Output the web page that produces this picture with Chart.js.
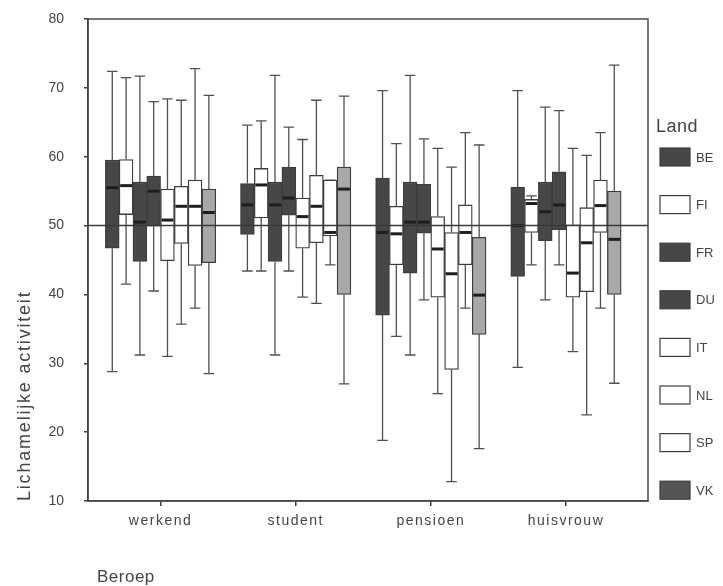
<!DOCTYPE html>
<html>
<head>
<meta charset="utf-8">
<title>Lichamelijke activiteit per beroep en land</title>
<script src="https://cdn.jsdelivr.net/npm/chart.js@4.4.1/dist/chart.umd.min.js"></script>
<style>
  html, body { margin: 0; padding: 0; background: #fff; }
  canvas { display: block; }
</style>
</head>
<body>
<canvas id="boxChart" width="723" height="586"></canvas>
<script>
// categories and groups
const beroepen = ["werkend", "student", "pensioen", "huisvrouw"];
const landen = ["BE", "FI", "FR", "DU", "IT", "NL", "SP", "VK"];
const yTicks = [10, 20, 30, 40, 50, 60, 70, 80];
const referentie = 50;

// box statistics per land, in beroepen order
const whiskerHoog = {
  BE: [72.4, 64.6, 69.6, 69.6],
  FI: [71.5, 65.2, 61.9, 54.3],
  FR: [71.7, 71.8, 71.8, 67.2],
  DU: [68.0, 64.3, 62.6, 66.7],
  IT: [68.4, 62.5, 61.2, 61.2],
  NL: [68.2, 68.2, 58.5, 60.2],
  SP: [72.8, 56.6, 63.5, 63.5],
  VK: [68.9, 68.8, 61.7, 73.3]
};
const q3 = {
  BE: [59.5, 56.1, 56.9, 55.6],
  FI: [59.6, 58.3, 52.8, 53.8],
  FR: [56.3, 56.3, 56.3, 56.3],
  DU: [57.2, 58.5, 56.0, 57.8],
  IT: [55.3, 54.0, 51.3, 50.1],
  NL: [55.7, 57.3, 49.0, 52.6],
  SP: [56.6, 56.6, 53.0, 56.6],
  VK: [55.3, 58.5, 48.3, 55.0]
};
const mediaan = {
  BE: [55.5, 53.0, 49.0, 50.0],
  FI: [55.8, 55.9, 48.8, 53.2],
  FR: [50.5, 53.0, 50.5, 52.0],
  DU: [55.0, 54.0, 50.5, 53.0],
  IT: [50.8, 51.3, 46.6, 43.1],
  NL: [52.8, 52.8, 43.0, 47.5],
  SP: [52.8, 49.0, 49.0, 52.9],
  VK: [51.9, 55.3, 39.9, 48.0]
};
const q1 = {
  BE: [46.7, 48.7, 37.0, 42.6],
  FI: [51.6, 51.1, 44.3, 49.0],
  FR: [44.8, 44.8, 43.1, 47.8],
  DU: [49.9, 51.5, 48.9, 49.4],
  IT: [44.9, 46.7, 39.6, 39.6],
  NL: [47.4, 47.5, 29.1, 40.4],
  SP: [44.2, 48.5, 44.3, 49.0],
  VK: [44.6, 40.0, 34.2, 40.0]
};
const whiskerLaag = {
  BE: [28.8, 43.4, 18.8, 29.4],
  FI: [41.5, 43.4, 33.9, 44.3],
  FR: [31.2, 31.2, 31.2, 39.2],
  DU: [40.5, 43.4, 39.2, 44.3],
  IT: [31.0, 39.6, 25.6, 31.7],
  NL: [35.7, 38.7, 12.8, 22.5],
  SP: [38.0, 44.3, 38.0, 38.0],
  VK: [28.5, 27.0, 17.6, 27.1]
};

// styling
const vulKleur = {
  BE: "#474747", FI: "#ffffff", FR: "#474747", DU: "#474747",
  IT: "#ffffff", NL: "#ffffff", SP: "#ffffff", VK: "#a8a8a8"
};
const legendaKleur = Object.assign({}, vulKleur, { VK: "#555555" });
const lijnKleur = "#3d3d3d";
const tekstKleur = "#444444";
const font = "'Liberation Sans', Arial, sans-serif";

const datasets = landen.map(land => ({
  label: land,
  data: beroepen.map((b, i) => ({ x: i + 1, y: [q1[land][i], q3[land][i]] })),
  backgroundColor: vulKleur[land],
  borderColor: lijnKleur,
  borderWidth: 1.3,
  borderSkipped: false,
  barThickness: 13.8
}));

const boxPlugin = {
  id: "boxplot",
  beforeDatasetsDraw(chart) {
    const ctx = chart.ctx;
    const y = chart.scales.y;
    ctx.save();
    ctx.strokeStyle = "#505050";
    ctx.lineWidth = 1.3;
    chart.data.datasets.forEach((ds, d) => {
      const land = ds.label;
      chart.getDatasetMeta(d).data.forEach((bar, i) => {
        const hi = y.getPixelForValue(whiskerHoog[land][i]);
        const lo = y.getPixelForValue(whiskerLaag[land][i]);
        const top = y.getPixelForValue(q3[land][i]);
        const bot = y.getPixelForValue(q1[land][i]);
        const cap = bar.width * 0.38;
        ctx.beginPath();
        ctx.moveTo(bar.x, top); ctx.lineTo(bar.x, hi);
        ctx.moveTo(bar.x, bot); ctx.lineTo(bar.x, lo);
        ctx.moveTo(bar.x - cap, hi); ctx.lineTo(bar.x + cap, hi);
        ctx.moveTo(bar.x - cap, lo); ctx.lineTo(bar.x + cap, lo);
        ctx.stroke();
      });
    });
    ctx.restore();
  },
  afterDatasetsDraw(chart) {
    const ctx = chart.ctx;
    const y = chart.scales.y;
    const a = chart.chartArea;
    ctx.save();
    // medians
    ctx.strokeStyle = "#1e1e1e";
    ctx.lineWidth = 3;
    chart.data.datasets.forEach((ds, d) => {
      const land = ds.label;
      chart.getDatasetMeta(d).data.forEach((bar, i) => {
        const m = y.getPixelForValue(mediaan[land][i]);
        ctx.beginPath();
        ctx.moveTo(bar.x - bar.width / 2 + 1, m);
        ctx.lineTo(bar.x + bar.width / 2 - 1, m);
        ctx.stroke();
      });
    });
    // reference line
    const ry = y.getPixelForValue(referentie);
    ctx.strokeStyle = "#3a3a3a";
    ctx.lineWidth = 1.5;
    ctx.beginPath();
    ctx.moveTo(a.left, ry); ctx.lineTo(a.right, ry);
    ctx.stroke();
    // frame
    ctx.strokeStyle = "#4a4a4a";
    ctx.strokeRect(a.left, a.top, a.right - a.left, a.bottom - a.top);
    ctx.restore();
  },
  afterDraw(chart) {
    const ctx = chart.ctx;
    const x = chart.scales.x;
    const a = chart.chartArea;
    ctx.save();
    ctx.fillStyle = tekstKleur;
    // category labels
    ctx.font = "14px " + font;
    ctx.letterSpacing = "1.5px";
    ctx.textAlign = "center";
    ctx.textBaseline = "middle";
    beroepen.forEach((b, i) => ctx.fillText(b, x.getPixelForValue(i + 1), a.bottom + 20));
    // axis titles
    ctx.font = "17px " + font;
    ctx.letterSpacing = "0.5px";
    ctx.textAlign = "left";
    ctx.fillText("Beroep", 97, 577);
    ctx.save();
    ctx.translate(25, a.bottom);
    ctx.rotate(-Math.PI / 2);
    ctx.font = "18px " + font;
    ctx.letterSpacing = "1.8px";
    ctx.fillText("Lichamelijke activiteit", 0, 0);
    ctx.restore();
    // legend
    ctx.font = "18px " + font;
    ctx.letterSpacing = "0.5px";
    ctx.fillText("Land", 656, 127);
    ctx.font = "13px " + font;
    ctx.letterSpacing = "0px";
    landen.forEach((land, k) => {
      const cy = 157 + k * 47.6;
      ctx.fillStyle = legendaKleur[land];
      ctx.fillRect(660, cy - 9, 30, 18);
      ctx.strokeStyle = lijnKleur;
      ctx.lineWidth = 1.2;
      ctx.strokeRect(660, cy - 9, 30, 18);
      ctx.fillStyle = tekstKleur;
      ctx.fillText(land, 696, cy + 1);
    });
    ctx.restore();
  }
};

new Chart(document.getElementById("boxChart"), {
  type: "bar",
  data: { datasets },
  options: {
    responsive: false,
    animation: false,
    layout: { padding: { top: 19, right: 75, bottom: 0, left: 0 } },
    plugins: { legend: { display: false }, tooltip: { enabled: false } },
    scales: {
      x: {
        type: "linear",
        offset: false,
        min: 0.463,
        max: 4.607,
        afterBuildTicks: s => { s.ticks = beroepen.map((b, i) => ({ value: i + 1 })); },
        afterFit: s => { s.height = 85; },
        ticks: { display: false },
        grid: { offset: false, drawOnChartArea: false, drawTicks: true, tickLength: 5, color: lijnKleur, lineWidth: 1.5 },
        border: { display: true, color: lijnKleur, width: 1.5 }
      },
      y: {
        min: 10,
        max: 80,
        afterBuildTicks: s => { s.ticks = yTicks.map(v => ({ value: v })); },
        afterFit: s => { s.width = 88; s.paddingTop = 0; s.paddingBottom = 0; },
        ticks: { color: tekstKleur, padding: 20, font: { size: 14, family: font } },
        grid: { drawOnChartArea: false, drawTicks: true, tickLength: 4, color: lijnKleur, lineWidth: 1.5 },
        border: { display: true, color: lijnKleur, width: 1.5 }
      }
    }
  },
  plugins: [boxPlugin]
});
</script>
</body>
</html>
